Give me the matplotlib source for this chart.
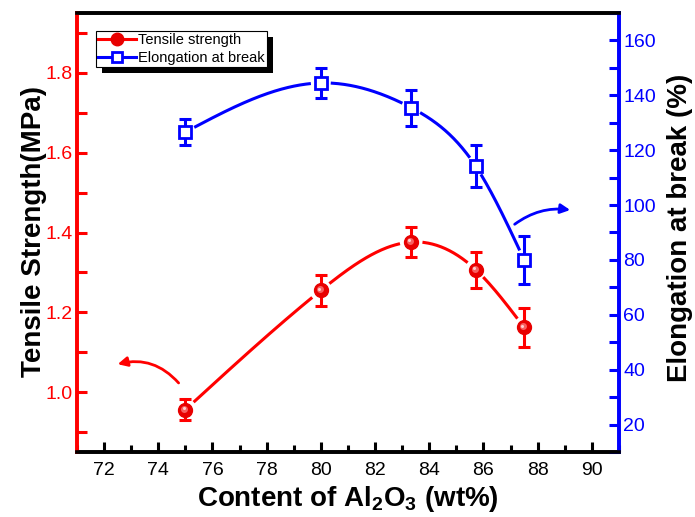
import numpy as np
import matplotlib
matplotlib.use('Agg')
import matplotlib.pyplot as plt
from matplotlib.patches import Rectangle
from matplotlib.lines import Line2D
from matplotlib.ticker import MultipleLocator
from matplotlib.transforms import offset_copy

plt.rcParams['font.family'] = ['Liberation Sans', 'DejaVu Sans']
plt.rcParams['mathtext.fontset'] = 'custom'
plt.rcParams['mathtext.rm'] = 'Liberation Sans'
plt.rcParams['mathtext.bf'] = 'Liberation Sans:bold'

# data
al2o3 = [75.0, 80.0, 83.33, 85.71, 87.5]
tensile = [0.956, 1.255, 1.376, 1.307, 1.162]
tensile_err = [0.027, 0.038, 0.037, 0.045, 0.05]
elong = [126.6, 144.5, 135.5, 114.2, 80.0]
elong_err = [4.6, 5.6, 6.6, 7.6, 8.6]

RED = '#ff0000'
BLUE = '#0000ff'


def natural_spline(x, y, n=400):
    # plain natural cubic spline, used for the "spline connect" lines
    x = np.asarray(x, float)
    y = np.asarray(y, float)
    m = len(x)
    h = np.diff(x)
    A = np.zeros((m, m))
    b = np.zeros(m)
    A[0, 0] = A[-1, -1] = 1
    for i in range(1, m - 1):
        A[i, i - 1] = h[i - 1]
        A[i, i] = 2 * (h[i - 1] + h[i])
        A[i, i + 1] = h[i]
        b[i] = 6 * ((y[i + 1] - y[i]) / h[i] - (y[i] - y[i - 1]) / h[i - 1])
    M = np.linalg.solve(A, b)
    xs = np.linspace(x[0], x[-1], n)
    idx = np.clip(np.searchsorted(x, xs) - 1, 0, m - 2)
    x0, x1 = x[idx], x[idx + 1]
    hh = x1 - x0
    ys = (M[idx] * (x1 - xs) ** 3 / (6 * hh) + M[idx + 1] * (xs - x0) ** 3 / (6 * hh)
          + (y[idx] / hh - M[idx] * hh / 6) * (x1 - xs)
          + (y[idx + 1] / hh - M[idx + 1] * hh / 6) * (xs - x0))
    return xs, ys


def gapped(ax, xs, ys, px, py, gap=12):
    # cut the line near the markers, like Origin does
    pts = ax.transData.transform(np.column_stack([xs, ys]))
    marks = ax.transData.transform(np.column_stack([px, py]))
    d = np.min(np.hypot(pts[:, None, 0] - marks[None, :, 0],
                        pts[:, None, 1] - marks[None, :, 1]), axis=1)
    ys = np.array(ys, float)
    ys[d < gap] = np.nan
    return xs, ys


fig = plt.figure(figsize=(6.95, 5.17), dpi=100)
ax = fig.add_axes([77 / 695, 1 - 452 / 517, 542 / 695, 439 / 517])
ax2 = ax.twinx()

ax.set_xlim(71, 91)
ax.set_ylim(0.85, 1.95)
ax2.set_ylim(10, 170)

# red series
ax.errorbar(al2o3, tensile, yerr=tensile_err, fmt='none', ecolor=RED,
            elinewidth=2.2, capsize=4, capthick=2.2, zorder=3)
ax.plot(al2o3, tensile, 'o', color='#e80000', ms=10, zorder=4)
hl = offset_copy(ax.transData, fig=fig, x=-0.8, y=0.8, units='points')
ax.plot(al2o3, tensile, 'o', color='#f86060', ms=5, mew=0, transform=hl, zorder=5)
hl2 = offset_copy(ax.transData, fig=fig, x=-1.3, y=1.3, units='points')
ax.plot(al2o3, tensile, 'o', color='#ffd0d0', ms=2.2, mew=0, transform=hl2, zorder=6)

# blue series
ax2.errorbar(elong and al2o3, elong, yerr=elong_err, fmt='none', ecolor=BLUE,
             elinewidth=2.2, capsize=4, capthick=2.2, zorder=3)
ax2.plot(al2o3, elong, 's', mfc='white', mec=BLUE, mew=2, ms=8, zorder=4)

# spline lines with gaps
xs, ys = natural_spline(al2o3, tensile)
xs, ys = gapped(ax, xs, ys, al2o3, tensile, 12)
ax.plot(xs, ys, color=RED, lw=2.2, zorder=2)
xs, ys = natural_spline(al2o3, elong)
xs, ys = gapped(ax2, xs, ys, al2o3, elong, 11)
ax2.plot(xs, ys, color=BLUE, lw=2.2, zorder=2)

# arrows
ax.annotate('', xy=(72.5, 1.07), xytext=(74.75, 1.023),
            arrowprops=dict(arrowstyle='-|>', color=RED, lw=2,
                            mutation_scale=14, shrinkA=0, shrinkB=0,
                            connectionstyle='arc3,rad=0.3'))
ax2.annotate('', xy=(89.2, 98.2), xytext=(87.15, 93),
             arrowprops=dict(arrowstyle='-|>', color=BLUE, lw=2,
                             mutation_scale=14, shrinkA=0, shrinkB=0,
                             connectionstyle='arc3,rad=-0.2'))

# spines
for a in (ax, ax2):
    for s in a.spines.values():
        s.set_linewidth(2.6)
ax.spines['left'].set_color(RED)
ax2.spines['left'].set_color(RED)
ax.spines['right'].set_color(BLUE)
ax2.spines['right'].set_color(BLUE)
ax.spines['top'].set_color('black')
ax.spines['bottom'].set_color('black')

ax.xaxis.set_major_locator(MultipleLocator(2))
ax.xaxis.set_minor_locator(MultipleLocator(1))
ax.yaxis.set_major_locator(MultipleLocator(0.2))
ax.yaxis.set_minor_locator(MultipleLocator(0.1))
ax2.yaxis.set_major_locator(MultipleLocator(20))
ax2.yaxis.set_minor_locator(MultipleLocator(10))
ax.yaxis.set_major_formatter(plt.FuncFormatter(lambda v, p: f'{v:.1f}'))

ax.tick_params(axis='x', which='major', direction='in', length=7, width=2.2,
               labelsize=14, pad=7, colors='black', top=False)
ax.tick_params(axis='x', which='minor', direction='in', length=5, width=2.2, top=False)
ax.tick_params(axis='y', which='major', direction='in', length=7, width=2.2,
               labelsize=14, pad=3, colors=RED)
ax.tick_params(axis='y', which='minor', direction='in', length=7, width=2.2, colors=RED)
ax2.tick_params(axis='y', which='major', direction='in', length=7, width=2.2,
                labelsize=14, pad=3, colors=BLUE)
ax2.tick_params(axis='y', which='minor', direction='in', length=7, width=2.2, colors=BLUE)

ax.set_xlabel(r'Content of Al$_{\mathbf{2}}$O$_{\mathbf{3}}$ (wt%)',
              fontsize=20, fontweight='bold')
ax.set_ylabel('Tensile Strength(MPa)', fontsize=20, fontweight='bold')
ax2.set_ylabel('Elongation at break (%)', fontsize=20, fontweight='bold')
ax.xaxis.set_label_coords(0.5, -0.072)
ax.yaxis.set_label_coords(-0.055, 0.502)
ax2.yaxis.set_label_coords(1.088, 0.511)

# legend with a hard black shadow
h1 = Line2D([], [], color=RED, lw=2.2, marker='o', ms=9, mfc='#e80000', mec='#e80000')
h2 = Line2D([], [], color=BLUE, lw=2.2, marker='s', ms=7, mfc='white', mec=BLUE, mew=2)
leg = ax2.legend([h1, h2], ['Tensile strength', 'Elongation at break'],
                 loc='upper left', bbox_to_anchor=(0.035, 0.959), borderaxespad=0,
                 fontsize=10.5, handlelength=2.6, handletextpad=0.15,
                 labelspacing=0.25, borderpad=0.15, fancybox=False,
                 framealpha=1, edgecolor='black')
leg.get_frame().set_linewidth(0.8)
leg.set_zorder(10)

fig.canvas.draw()
bb = leg.get_window_extent().transformed(ax2.transAxes.inverted())
off = 6
dx = off / ax2.bbox.width
dy = off / ax2.bbox.height
ax2.add_patch(Rectangle((bb.x0 + dx, bb.y0 - dy), bb.width, bb.height,
                        transform=ax2.transAxes, facecolor='black',
                        edgecolor='none', zorder=9, clip_on=False))

fig.savefig('out.png', dpi=100)
